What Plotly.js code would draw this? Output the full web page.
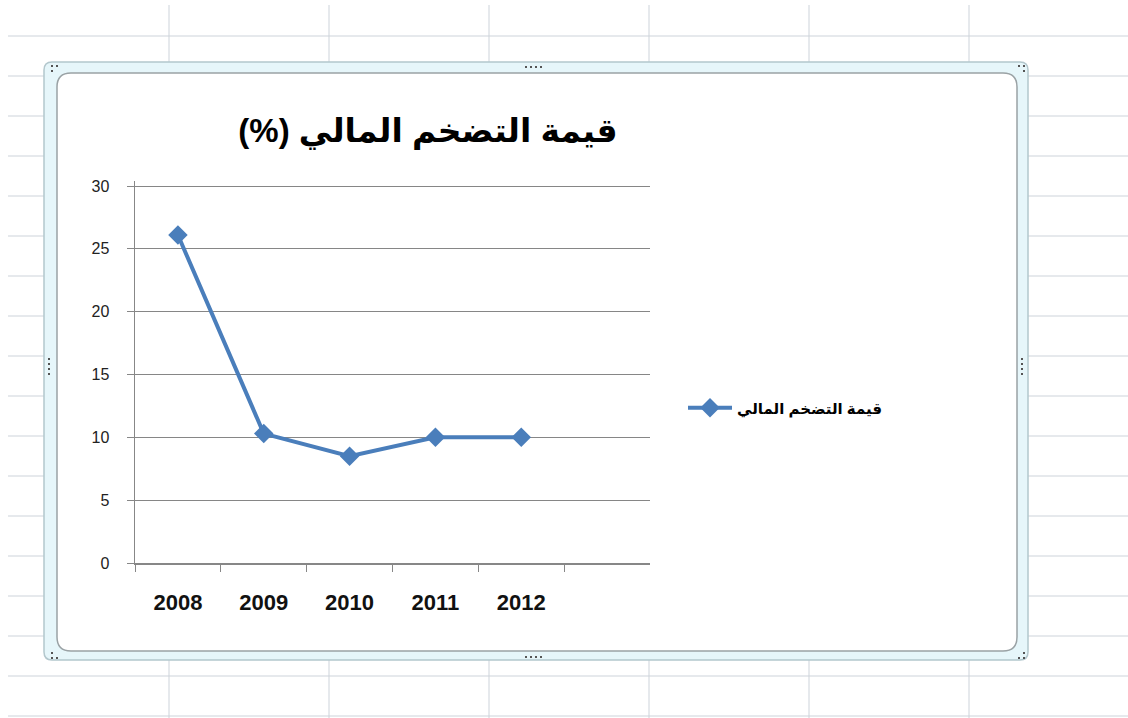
<!DOCTYPE html>
<html>
<head>
<meta charset="utf-8">
<script src="https://cdn.plot.ly/plotly-3.0.1.min.js"></script>
<style>html,body{margin:0;padding:0;background:#fff;}#chart{width:1128px;height:718px;}</style>
</head>
<body>
<div id="chart"></div>
<script>
// ---- data ----
const years = ['2008', '2009', '2010', '2011', '2012'];
const inflation = [26.1, 10.3, 8.5, 10.0, 10.0];
const seriesName = 'قيمة التضخم المالي';
const chartTitle = '(%) قيمة التضخم المالي';
const yTicks = [0, 5, 10, 15, 20, 25, 30];

// ---- helpers (pixel -> paper) ----
const W = 1128, H = 718;
const fx = p => p / W;
const fy = p => 1 - p / H;
function roundRect(x0, y0, x1, y1, r) {
  const P = (x, y) => fx(x).toFixed(5) + ',' + fy(y).toFixed(5);
  return 'M' + P(x0 + r, y0) + ' L' + P(x1 - r, y0) + ' Q' + P(x1, y0) + ' ' + P(x1, y0 + r) +
    ' L' + P(x1, y1 - r) + ' Q' + P(x1, y1) + ' ' + P(x1 - r, y1) +
    ' L' + P(x0 + r, y1) + ' Q' + P(x0, y1) + ' ' + P(x0, y1 - r) +
    ' L' + P(x0, y0 + r) + ' Q' + P(x0, y0) + ' ' + P(x0 + r, y0) + ' Z';
}

const shapes = [];
// spreadsheet grid in background
for (let y = 36; y <= 718; y += 40) {
  shapes.push({type: 'line', xref: 'paper', yref: 'paper', layer: 'below',
    x0: fx(8), x1: fx(1128), y0: fy(y), y1: fy(y), line: {color: '#cdd3da', width: 1}});
}
for (let x = 169; x <= 1128; x += 160) {
  shapes.push({type: 'line', xref: 'paper', yref: 'paper', layer: 'below',
    x0: fx(x), x1: fx(x), y0: fy(5), y1: fy(718), line: {color: '#cdd3da', width: 1}});
}
// chart frame (outer selection frame + inner white chart area)
shapes.push({type: 'path', xref: 'paper', yref: 'paper', layer: 'below',
  path: roundRect(44, 62, 1028, 660, 8), fillcolor: '#e6f6fa', line: {color: '#b3c7cd', width: 1.5}});
shapes.push({type: 'path', xref: 'paper', yref: 'paper', layer: 'below',
  path: roundRect(57, 73, 1017, 651, 14), fillcolor: '#ffffff', line: {color: '#9aa2a5', width: 1.5}});
// selection handles (small dots)
function dot(x, y) {
  shapes.push({type: 'rect', xref: 'paper', yref: 'paper', layer: 'below',
    x0: fx(x), x1: fx(x + 2), y0: fy(y), y1: fy(y + 2), fillcolor: '#555', line: {width: 0}});
}
[[51,65],[56,65],[51,70],[1018,65],[1023,65],[1023,70],[51,657],[56,657],[51,652],[1018,657],[1023,657],[1023,652]].forEach(d => dot(d[0], d[1]));
for (let i = 0; i < 4; i++) { dot(525 + i * 5, 66); dot(525 + i * 5, 656); dot(48, 358 + i * 5); dot(1021, 358 + i * 5); }

const trace = {
  type: 'scatter', mode: 'lines+markers', name: seriesName,
  x: years, y: inflation,
  line: {color: '#4a7ebb', width: 4},
  marker: {symbol: 'diamond', size: 15, color: '#4a7ebb'}
};

// y range slightly above 30 so the top gridline is drawn; domain keeps 30 at the same height
const yMax = 30.4;
const pxPerUnit = (563 - 186) / 30;

const layout = {
  width: W, height: H,
  margin: {l: 0, r: 0, t: 0, b: 0},
  paper_bgcolor: '#ffffff', plot_bgcolor: 'rgba(0,0,0,0)',
  showlegend: true,
  title: {text: chartTitle, x: fx(428), y: fy(130), xref: 'paper', yref: 'paper',
    xanchor: 'center', yanchor: 'middle',
    font: {family: 'Liberation Sans, DejaVu Sans, sans-serif', size: 33, color: '#000', weight: 'bold'}},
  xaxis: {
    type: 'category', categoryorder: 'array', categoryarray: years,
    range: [-0.5, 5.5], domain: [fx(135), fx(650)],
    tickson: 'boundaries', ticks: 'outside', ticklen: 7, tickcolor: '#878787', tickwidth: 1,
    showline: true, linecolor: '#878787', linewidth: 1.5, showgrid: false, zeroline: false,
    ticklabelstandoff: 19,
    tickfont: {family: 'Liberation Sans, Arial, sans-serif', size: 22, color: '#111', weight: 'bold'}
  },
  yaxis: {
    range: [0, yMax], tickmode: 'array', tickvals: yTicks,
    domain: [fy(563), fy(563 - yMax * pxPerUnit)],
    ticks: 'outside', ticklen: 7, tickcolor: '#878787',
    showline: true, linecolor: '#878787', linewidth: 1.5,
    showgrid: true, gridcolor: '#868686', gridwidth: 1, zeroline: false,
    ticklabelstandoff: 14,
    tickfont: {family: 'Liberation Sans, DejaVu Sans, sans-serif', size: 16, color: '#222'}
  },
  legend: {x: fx(683), y: fy(408), xanchor: 'left', yanchor: 'middle', bgcolor: 'rgba(0,0,0,0)',
    itemwidth: 44,
    font: {family: 'Liberation Sans, DejaVu Sans, sans-serif', size: 15, color: '#000', weight: 'bold'}},
  shapes: shapes
};

Plotly.newPlot('chart', [trace], layout, {displayModeBar: false, staticPlot: true});
</script>
</body>
</html>
